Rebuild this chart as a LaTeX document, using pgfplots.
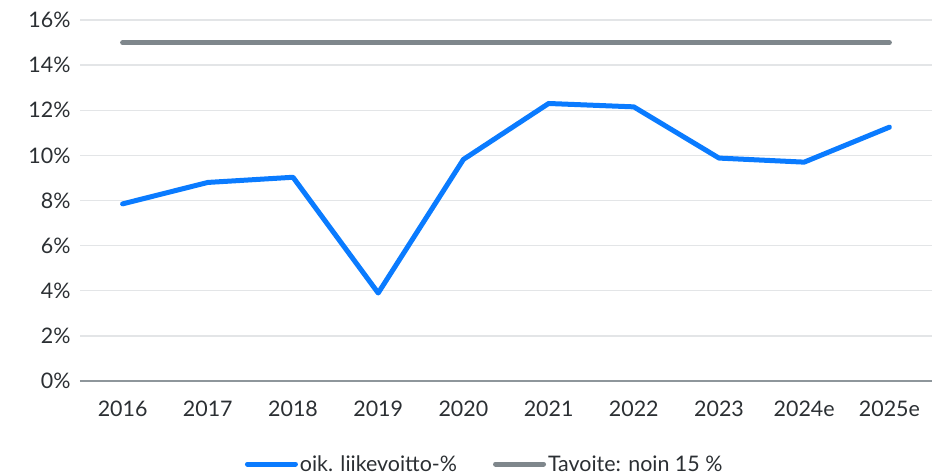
\documentclass[border=0pt]{standalone}
\usepackage{pgfplots}
\pgfplotsset{compat=1.18}
\usepackage{fontspec}
\setmainfont{Lato}
\definecolor{cblue}{HTML}{0A7BFF}
\definecolor{cgray}{HTML}{7F878C}
\definecolor{cgrid}{HTML}{E3E5E7}
\definecolor{caxis}{HTML}{8E969B}
\definecolor{ctext}{HTML}{2B2F33}
\begin{document}
\begin{tikzpicture}
\path[use as bounding box] (-80bp,-95bp) rectangle (865bp,381bp);
\begin{axis}[
  at={(0,0)}, anchor=south west,
  scale only axis, width=852bp, height=361bp,
  xmin=-0.5, xmax=9.5, ymin=0, ymax=16,
  xtick={0,...,9},
  xticklabels={2016,2017,2018,2019,2020,2021,2022,2023,2024e,2025e},
  ytick={0,2,...,16},
  yticklabel={\pgfmathprintnumber{\tick}\%},
  /pgf/number format/assume math mode=true,
  ymajorgrids, grid style={cgrid, line width=1.3bp},
  axis x line*=bottom, axis y line*=left,
  x axis line style={caxis, line width=1.5bp, -},
  y axis line style={draw=none},
  major tick length=0pt,
  tick label style={font=\fontsize{21.5}{24}\selectfont, text=ctext},
  xticklabel style={yshift=-16bp},
  yticklabel style={xshift=-6bp},
  legend columns=2,
  legend style={at={(0.475,-0.23)}, anchor=center, draw=none, fill=none,
    font=\fontsize{21.5}{24}\selectfont, text=ctext,
    /tikz/every even column/.append style={column sep=34bp},
    inner sep=0pt},
  legend image code/.code={\draw[#1] (0bp,0bp) -- (48bp,0bp);},
  clip=false,
]
\addplot[cblue, line width=5bp, line join=round, line cap=round] coordinates {
(0,7.85) (1,8.8) (2,9.03) (3,3.9) (4,9.82) (5,12.3) (6,12.15) (7,9.88) (8,9.7) (9,11.25)};
\addlegendentry{oik. liikevoitto-\%}
\addplot[cgray, line width=5bp, line cap=round] coordinates {
(0,15) (1,15) (2,15) (3,15) (4,15) (5,15) (6,15) (7,15) (8,15) (9,15)};
\addlegendentry{Tavoite: noin 15 \%}
\end{axis}
\end{tikzpicture}
\end{document}
